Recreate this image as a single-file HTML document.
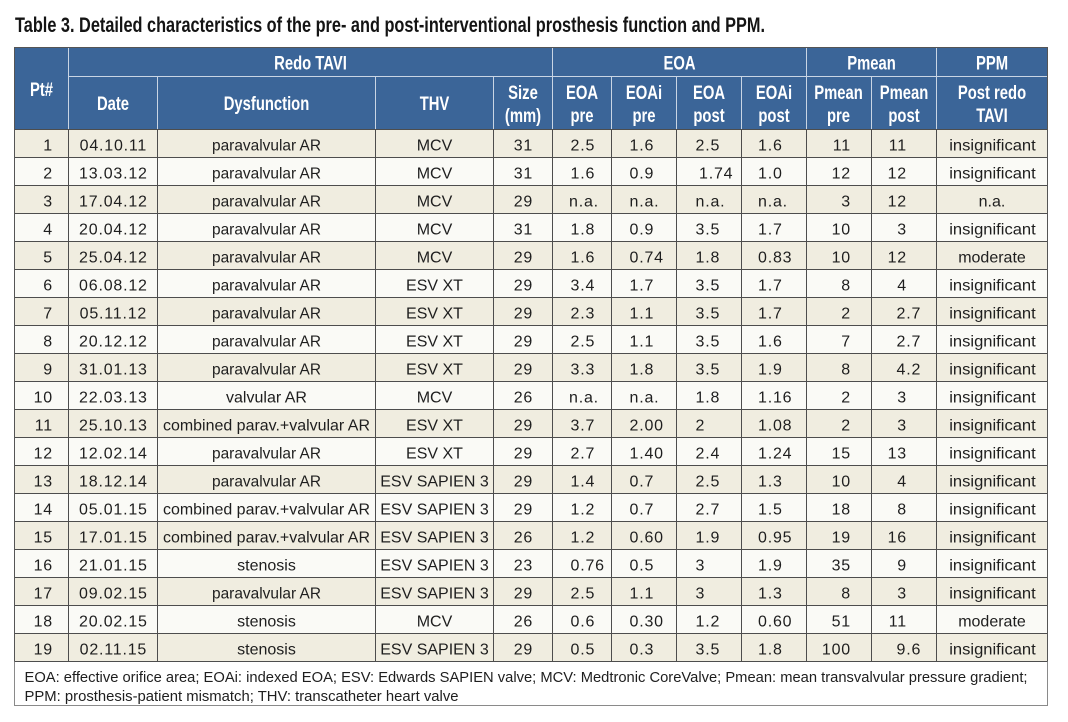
<!DOCTYPE html>
<html>
<head>
<meta charset="utf-8">
<style>
html,body{margin:0;padding:0;background:#fff;}
svg{display:block;}
.t{font-family:"Liberation Sans",Arial,sans-serif;font-size:16px;fill:#1e1e1e;}
.n{letter-spacing:0.8px;}
.h{font-family:"Liberation Sans",Arial,sans-serif;font-weight:bold;font-size:19.5px;fill:#ffffff;}
.f{font-family:"Liberation Sans",Arial,sans-serif;font-size:14.8px;fill:#1e1e1e;}
</style>
</head>
<body>
<svg width="1068" height="722" viewBox="0 0 1068 722" xmlns="http://www.w3.org/2000/svg">
<rect x="0" y="0" width="1068" height="722" fill="#ffffff"/>
<!-- title -->
<text x="15" y="32" font-family="Liberation Sans, Arial, sans-serif" font-weight="bold" font-size="21" fill="#141414" textLength="750" lengthAdjust="spacingAndGlyphs">Table 3. Detailed characteristics of the pre- and post-interventional prosthesis function and PPM.</text>

<!-- header background -->
<rect x="14.5" y="47.5" width="1033" height="82" fill="#3b6598"/>

<!-- body rows -->
<g>
<rect x="14.5" y="129.5" width="1033" height="28" fill="#f0ede0"/>
<rect x="14.5" y="157.5" width="1033" height="28" fill="#fafaf6"/>
<rect x="14.5" y="185.5" width="1033" height="28" fill="#f0ede0"/>
<rect x="14.5" y="213.5" width="1033" height="28" fill="#fafaf6"/>
<rect x="14.5" y="241.5" width="1033" height="28" fill="#f0ede0"/>
<rect x="14.5" y="269.5" width="1033" height="28" fill="#fafaf6"/>
<rect x="14.5" y="297.5" width="1033" height="28" fill="#f0ede0"/>
<rect x="14.5" y="325.5" width="1033" height="28" fill="#fafaf6"/>
<rect x="14.5" y="353.5" width="1033" height="28" fill="#f0ede0"/>
<rect x="14.5" y="381.5" width="1033" height="28" fill="#fafaf6"/>
<rect x="14.5" y="409.5" width="1033" height="28" fill="#f0ede0"/>
<rect x="14.5" y="437.5" width="1033" height="28" fill="#fafaf6"/>
<rect x="14.5" y="465.5" width="1033" height="28" fill="#f0ede0"/>
<rect x="14.5" y="493.5" width="1033" height="28" fill="#fafaf6"/>
<rect x="14.5" y="521.5" width="1033" height="28" fill="#f0ede0"/>
<rect x="14.5" y="549.5" width="1033" height="28" fill="#fafaf6"/>
<rect x="14.5" y="577.5" width="1033" height="28" fill="#f0ede0"/>
<rect x="14.5" y="605.5" width="1033" height="28" fill="#fafaf6"/>
<rect x="14.5" y="633.5" width="1033" height="28" fill="#f0ede0"/>
</g>

<!-- header internal light lines -->
<g stroke="#c9d5e4" stroke-width="1">
<line x1="68.5" y1="47.5" x2="68.5" y2="129.5"/>
<line x1="552.5" y1="47.5" x2="552.5" y2="129.5"/>
<line x1="806.5" y1="47.5" x2="806.5" y2="129.5"/>
<line x1="936.5" y1="47.5" x2="936.5" y2="129.5"/>
<line x1="68.5" y1="76.5" x2="1047.5" y2="76.5"/>
<line x1="157.5" y1="76.5" x2="157.5" y2="129.5"/>
<line x1="375.5" y1="76.5" x2="375.5" y2="129.5"/>
<line x1="493.5" y1="76.5" x2="493.5" y2="129.5"/>
<line x1="611.5" y1="76.5" x2="611.5" y2="129.5"/>
<line x1="676.5" y1="76.5" x2="676.5" y2="129.5"/>
<line x1="741.5" y1="76.5" x2="741.5" y2="129.5"/>
<line x1="871.5" y1="76.5" x2="871.5" y2="129.5"/>
</g>

<!-- body grid lines -->
<g stroke="#4d4d4d" stroke-width="1">
<line x1="68.5" y1="129.5" x2="68.5" y2="661.5"/>
<line x1="157.5" y1="129.5" x2="157.5" y2="661.5"/>
<line x1="375.5" y1="129.5" x2="375.5" y2="661.5"/>
<line x1="493.5" y1="129.5" x2="493.5" y2="661.5"/>
<line x1="552.5" y1="129.5" x2="552.5" y2="661.5"/>
<line x1="611.5" y1="129.5" x2="611.5" y2="661.5"/>
<line x1="676.5" y1="129.5" x2="676.5" y2="661.5"/>
<line x1="741.5" y1="129.5" x2="741.5" y2="661.5"/>
<line x1="806.5" y1="129.5" x2="806.5" y2="661.5"/>
<line x1="871.5" y1="129.5" x2="871.5" y2="661.5"/>
<line x1="936.5" y1="129.5" x2="936.5" y2="661.5"/>
<line x1="14.5" y1="129.5" x2="1047.5" y2="129.5"/>
<line x1="14.5" y1="157.5" x2="1047.5" y2="157.5"/>
<line x1="14.5" y1="185.5" x2="1047.5" y2="185.5"/>
<line x1="14.5" y1="213.5" x2="1047.5" y2="213.5"/>
<line x1="14.5" y1="241.5" x2="1047.5" y2="241.5"/>
<line x1="14.5" y1="269.5" x2="1047.5" y2="269.5"/>
<line x1="14.5" y1="297.5" x2="1047.5" y2="297.5"/>
<line x1="14.5" y1="325.5" x2="1047.5" y2="325.5"/>
<line x1="14.5" y1="353.5" x2="1047.5" y2="353.5"/>
<line x1="14.5" y1="381.5" x2="1047.5" y2="381.5"/>
<line x1="14.5" y1="409.5" x2="1047.5" y2="409.5"/>
<line x1="14.5" y1="437.5" x2="1047.5" y2="437.5"/>
<line x1="14.5" y1="465.5" x2="1047.5" y2="465.5"/>
<line x1="14.5" y1="493.5" x2="1047.5" y2="493.5"/>
<line x1="14.5" y1="521.5" x2="1047.5" y2="521.5"/>
<line x1="14.5" y1="549.5" x2="1047.5" y2="549.5"/>
<line x1="14.5" y1="577.5" x2="1047.5" y2="577.5"/>
<line x1="14.5" y1="605.5" x2="1047.5" y2="605.5"/>
<line x1="14.5" y1="633.5" x2="1047.5" y2="633.5"/>
<line x1="14.5" y1="661.5" x2="1047.5" y2="661.5"/>
</g>
<!-- outer border -->
<rect x="14.5" y="47.5" width="1033" height="614" fill="none" stroke="#555" stroke-width="1"/>
<!-- footer box -->
<rect x="14.5" y="661.5" width="1033" height="44" fill="#fff" stroke="#8a8a8a" stroke-width="1"/>
<line x1="14.5" y1="661.5" x2="1047.5" y2="661.5" stroke="#4d4d4d" stroke-width="1"/>

<!-- header text -->
<g class="h" text-anchor="middle">
<text transform="translate(41.5,96) scale(0.76,1)">Pt#</text>
<text transform="translate(310.5,69.5) scale(0.76,1)">Redo TAVI</text>
<text transform="translate(679.5,69.5) scale(0.76,1)">EOA</text>
<text transform="translate(871.5,69.5) scale(0.76,1)">Pmean</text>
<text transform="translate(992,69.5) scale(0.76,1)">PPM</text>
<text transform="translate(113,110) scale(0.76,1)">Date</text>
<text transform="translate(266.5,110) scale(0.76,1)">Dysfunction</text>
<text transform="translate(434.5,110) scale(0.76,1)">THV</text>
<text transform="translate(523,99) scale(0.76,1)">Size</text>
<text transform="translate(523,122) scale(0.76,1)">(mm)</text>
<text transform="translate(582,99) scale(0.76,1)">EOA</text>
<text transform="translate(582,122) scale(0.76,1)">pre</text>
<text transform="translate(644,99) scale(0.76,1)">EOAi</text>
<text transform="translate(644,122) scale(0.76,1)">pre</text>
<text transform="translate(709,99) scale(0.76,1)">EOA</text>
<text transform="translate(709,122) scale(0.76,1)">post</text>
<text transform="translate(774,99) scale(0.76,1)">EOAi</text>
<text transform="translate(774,122) scale(0.76,1)">post</text>
<text transform="translate(838.5,99) scale(0.76,1)">Pmean</text>
<text transform="translate(838.5,122) scale(0.76,1)">pre</text>
<text transform="translate(904,99) scale(0.76,1)">Pmean</text>
<text transform="translate(904,122) scale(0.76,1)">post</text>
<text transform="translate(992,99) scale(0.76,1)">Post redo</text>
<text transform="translate(992,122) scale(0.76,1)">TAVI</text>
</g>

<!-- Pt# column (right aligned) -->
<g class="t n" text-anchor="end">
<text x="53" y="150.7">1</text>
<text x="53" y="178.7">2</text>
<text x="53" y="206.7">3</text>
<text x="53" y="234.7">4</text>
<text x="53" y="262.7">5</text>
<text x="53" y="290.7">6</text>
<text x="53" y="318.7">7</text>
<text x="53" y="346.7">8</text>
<text x="53" y="374.7">9</text>
<text x="53" y="402.7">10</text>
<text x="53" y="430.7">11</text>
<text x="53" y="458.7">12</text>
<text x="53" y="486.7">13</text>
<text x="53" y="514.7">14</text>
<text x="53" y="542.7">15</text>
<text x="53" y="570.7">16</text>
<text x="53" y="598.7">17</text>
<text x="53" y="626.7">18</text>
<text x="53" y="654.7">19</text>
</g>

<!-- Date column -->
<g class="t n" text-anchor="middle">
<text x="113.4" y="150.7">04.10.11</text>
<text x="113.4" y="178.7">13.03.12</text>
<text x="113.4" y="206.7">17.04.12</text>
<text x="113.4" y="234.7">20.04.12</text>
<text x="113.4" y="262.7">25.04.12</text>
<text x="113.4" y="290.7">06.08.12</text>
<text x="113.4" y="318.7">05.11.12</text>
<text x="113.4" y="346.7">20.12.12</text>
<text x="113.4" y="374.7">31.01.13</text>
<text x="113.4" y="402.7">22.03.13</text>
<text x="113.4" y="430.7">25.10.13</text>
<text x="113.4" y="458.7">12.02.14</text>
<text x="113.4" y="486.7">18.12.14</text>
<text x="113.4" y="514.7">05.01.15</text>
<text x="113.4" y="542.7">17.01.15</text>
<text x="113.4" y="570.7">21.01.15</text>
<text x="113.4" y="598.7">09.02.15</text>
<text x="113.4" y="626.7">20.02.15</text>
<text x="113.4" y="654.7">02.11.15</text>
</g>

<!-- Dysfunction column -->
<g class="t" text-anchor="middle">
<text x="266.5" y="150.7" textLength="109" lengthAdjust="spacingAndGlyphs">paravalvular AR</text>
<text x="266.5" y="178.7" textLength="109" lengthAdjust="spacingAndGlyphs">paravalvular AR</text>
<text x="266.5" y="206.7" textLength="109" lengthAdjust="spacingAndGlyphs">paravalvular AR</text>
<text x="266.5" y="234.7" textLength="109" lengthAdjust="spacingAndGlyphs">paravalvular AR</text>
<text x="266.5" y="262.7" textLength="109" lengthAdjust="spacingAndGlyphs">paravalvular AR</text>
<text x="266.5" y="290.7" textLength="109" lengthAdjust="spacingAndGlyphs">paravalvular AR</text>
<text x="266.5" y="318.7" textLength="109" lengthAdjust="spacingAndGlyphs">paravalvular AR</text>
<text x="266.5" y="346.7" textLength="109" lengthAdjust="spacingAndGlyphs">paravalvular AR</text>
<text x="266.5" y="374.7" textLength="109" lengthAdjust="spacingAndGlyphs">paravalvular AR</text>
<text x="266.5" y="402.7">valvular AR</text>
<text x="266.5" y="430.7" textLength="207" lengthAdjust="spacingAndGlyphs">combined parav.+valvular AR</text>
<text x="266.5" y="458.7" textLength="109" lengthAdjust="spacingAndGlyphs">paravalvular AR</text>
<text x="266.5" y="486.7" textLength="109" lengthAdjust="spacingAndGlyphs">paravalvular AR</text>
<text x="266.5" y="514.7" textLength="207" lengthAdjust="spacingAndGlyphs">combined parav.+valvular AR</text>
<text x="266.5" y="542.7" textLength="207" lengthAdjust="spacingAndGlyphs">combined parav.+valvular AR</text>
<text x="266.5" y="570.7">stenosis</text>
<text x="266.5" y="598.7" textLength="109" lengthAdjust="spacingAndGlyphs">paravalvular AR</text>
<text x="266.5" y="626.7">stenosis</text>
<text x="266.5" y="654.7">stenosis</text>
</g>

<!-- THV column -->
<g class="t" text-anchor="middle">
<text x="434.5" y="150.7">MCV</text>
<text x="434.5" y="178.7">MCV</text>
<text x="434.5" y="206.7">MCV</text>
<text x="434.5" y="234.7">MCV</text>
<text x="434.5" y="262.7">MCV</text>
<text x="434.5" y="290.7">ESV XT</text>
<text x="434.5" y="318.7">ESV XT</text>
<text x="434.5" y="346.7">ESV XT</text>
<text x="434.5" y="374.7">ESV XT</text>
<text x="434.5" y="402.7">MCV</text>
<text x="434.5" y="430.7">ESV XT</text>
<text x="434.5" y="458.7">ESV XT</text>
<text x="434.5" y="486.7">ESV SAPIEN 3</text>
<text x="434.5" y="514.7">ESV SAPIEN 3</text>
<text x="434.5" y="542.7">ESV SAPIEN 3</text>
<text x="434.5" y="570.7">ESV SAPIEN 3</text>
<text x="434.5" y="598.7">ESV SAPIEN 3</text>
<text x="434.5" y="626.7">MCV</text>
<text x="434.5" y="654.7">ESV SAPIEN 3</text>
</g>

<!-- Size column -->
<g class="t n" text-anchor="middle">
<text x="523.4" y="150.7">31</text>
<text x="523.4" y="178.7">31</text>
<text x="523.4" y="206.7">29</text>
<text x="523.4" y="234.7">31</text>
<text x="523.4" y="262.7">29</text>
<text x="523.4" y="290.7">29</text>
<text x="523.4" y="318.7">29</text>
<text x="523.4" y="346.7">29</text>
<text x="523.4" y="374.7">29</text>
<text x="523.4" y="402.7">26</text>
<text x="523.4" y="430.7">29</text>
<text x="523.4" y="458.7">29</text>
<text x="523.4" y="486.7">29</text>
<text x="523.4" y="514.7">29</text>
<text x="523.4" y="542.7">26</text>
<text x="523.4" y="570.7">23</text>
<text x="523.4" y="598.7">29</text>
<text x="523.4" y="626.7">26</text>
<text x="523.4" y="654.7">29</text>
</g>

<!-- EOA pre -->
<g class="t n" text-anchor="start">
<text x="570.5" y="150.7">2.5</text>
<text x="570.5" y="178.7">1.6</text>
<text x="569" y="206.7">n.a.</text>
<text x="570.5" y="234.7">1.8</text>
<text x="570.5" y="262.7">1.6</text>
<text x="570.5" y="290.7">3.4</text>
<text x="570.5" y="318.7">2.3</text>
<text x="570.5" y="346.7">2.5</text>
<text x="570.5" y="374.7">3.3</text>
<text x="569" y="402.7">n.a.</text>
<text x="570.5" y="430.7">3.7</text>
<text x="570.5" y="458.7">2.7</text>
<text x="570.5" y="486.7">1.4</text>
<text x="570.5" y="514.7">1.2</text>
<text x="570.5" y="542.7">1.2</text>
<text x="570.5" y="570.7">0.76</text>
<text x="570.5" y="598.7">2.5</text>
<text x="570.5" y="626.7">0.6</text>
<text x="570.5" y="654.7">0.5</text>
</g>

<!-- EOAi pre -->
<g class="t n" text-anchor="start">
<text x="629.5" y="150.7">1.6</text>
<text x="629.5" y="178.7">0.9</text>
<text x="629.5" y="206.7">n.a.</text>
<text x="629.5" y="234.7">0.9</text>
<text x="629.5" y="262.7">0.74</text>
<text x="629.5" y="290.7">1.7</text>
<text x="629.5" y="318.7">1.1</text>
<text x="629.5" y="346.7">1.1</text>
<text x="629.5" y="374.7">1.8</text>
<text x="629.5" y="402.7">n.a.</text>
<text x="629.5" y="430.7">2.00</text>
<text x="629.5" y="458.7">1.40</text>
<text x="629.5" y="486.7">0.7</text>
<text x="629.5" y="514.7">0.7</text>
<text x="629.5" y="542.7">0.60</text>
<text x="629.5" y="570.7">0.5</text>
<text x="629.5" y="598.7">1.1</text>
<text x="629.5" y="626.7">0.30</text>
<text x="629.5" y="654.7">0.3</text>
</g>

<!-- EOA post -->
<g class="t n" text-anchor="start">
<text x="695.5" y="150.7">2.5</text>
<text x="699" y="178.7">1.74</text>
<text x="695.5" y="206.7">n.a.</text>
<text x="695.5" y="234.7">3.5</text>
<text x="695.5" y="262.7">1.8</text>
<text x="695.5" y="290.7">3.5</text>
<text x="695.5" y="318.7">3.5</text>
<text x="695.5" y="346.7">3.5</text>
<text x="695.5" y="374.7">3.5</text>
<text x="695.5" y="402.7">1.8</text>
<text x="695.5" y="430.7">2</text>
<text x="695.5" y="458.7">2.4</text>
<text x="695.5" y="486.7">2.5</text>
<text x="695.5" y="514.7">2.7</text>
<text x="695.5" y="542.7">1.9</text>
<text x="695.5" y="570.7">3</text>
<text x="695.5" y="598.7">3</text>
<text x="695.5" y="626.7">1.2</text>
<text x="695.5" y="654.7">3.5</text>
</g>

<!-- EOAi post -->
<g class="t n" text-anchor="start">
<text x="758" y="150.7">1.6</text>
<text x="758" y="178.7">1.0</text>
<text x="758" y="206.7">n.a.</text>
<text x="758" y="234.7">1.7</text>
<text x="758" y="262.7">0.83</text>
<text x="758" y="290.7">1.7</text>
<text x="758" y="318.7">1.7</text>
<text x="758" y="346.7">1.6</text>
<text x="758" y="374.7">1.9</text>
<text x="758" y="402.7">1.16</text>
<text x="758" y="430.7">1.08</text>
<text x="758" y="458.7">1.24</text>
<text x="758" y="486.7">1.3</text>
<text x="758" y="514.7">1.5</text>
<text x="758" y="542.7">0.95</text>
<text x="758" y="570.7">1.9</text>
<text x="758" y="598.7">1.3</text>
<text x="758" y="626.7">0.60</text>
<text x="758" y="654.7">1.8</text>
</g>

<!-- Pmean pre (right aligned) -->
<g class="t n" text-anchor="end">
<text x="851" y="150.7">11</text>
<text x="851" y="178.7">12</text>
<text x="851" y="206.7">3</text>
<text x="851" y="234.7">10</text>
<text x="851" y="262.7">10</text>
<text x="851" y="290.7">8</text>
<text x="851" y="318.7">2</text>
<text x="851" y="346.7">7</text>
<text x="851" y="374.7">8</text>
<text x="851" y="402.7">2</text>
<text x="851" y="430.7">2</text>
<text x="851" y="458.7">15</text>
<text x="851" y="486.7">10</text>
<text x="851" y="514.7">18</text>
<text x="851" y="542.7">19</text>
<text x="851" y="570.7">35</text>
<text x="851" y="598.7">8</text>
<text x="851" y="626.7">51</text>
<text x="851" y="654.7">100</text>
</g>

<!-- Pmean post (decimal aligned) -->
<g class="t n">
<text x="907" y="150.7" text-anchor="end">11</text>
<text x="907" y="178.7" text-anchor="end">12</text>
<text x="907" y="206.7" text-anchor="end">12</text>
<text x="907" y="234.7" text-anchor="end">3</text>
<text x="907" y="262.7" text-anchor="end">12</text>
<text x="907" y="290.7" text-anchor="end">4</text>
<text x="896.5" y="318.7" text-anchor="start">2.7</text>
<text x="896.5" y="346.7" text-anchor="start">2.7</text>
<text x="896.5" y="374.7" text-anchor="start">4.2</text>
<text x="907" y="402.7" text-anchor="end">3</text>
<text x="907" y="430.7" text-anchor="end">3</text>
<text x="907" y="458.7" text-anchor="end">13</text>
<text x="907" y="486.7" text-anchor="end">4</text>
<text x="907" y="514.7" text-anchor="end">8</text>
<text x="907" y="542.7" text-anchor="end">16</text>
<text x="907" y="570.7" text-anchor="end">9</text>
<text x="907" y="598.7" text-anchor="end">3</text>
<text x="907" y="626.7" text-anchor="end">11</text>
<text x="896.5" y="654.7" text-anchor="start">9.6</text>
</g>

<!-- PPM column -->
<g class="t" text-anchor="middle">
<text x="992.5" y="150.7" textLength="86.5" lengthAdjust="spacingAndGlyphs">insignificant</text>
<text x="992.5" y="178.7" textLength="86.5" lengthAdjust="spacingAndGlyphs">insignificant</text>
<text x="992" y="206.7">n.a.</text>
<text x="992.5" y="234.7" textLength="86.5" lengthAdjust="spacingAndGlyphs">insignificant</text>
<text x="992" y="262.7">moderate</text>
<text x="992.5" y="290.7" textLength="86.5" lengthAdjust="spacingAndGlyphs">insignificant</text>
<text x="992.5" y="318.7" textLength="86.5" lengthAdjust="spacingAndGlyphs">insignificant</text>
<text x="992.5" y="346.7" textLength="86.5" lengthAdjust="spacingAndGlyphs">insignificant</text>
<text x="992.5" y="374.7" textLength="86.5" lengthAdjust="spacingAndGlyphs">insignificant</text>
<text x="992.5" y="402.7" textLength="86.5" lengthAdjust="spacingAndGlyphs">insignificant</text>
<text x="992.5" y="430.7" textLength="86.5" lengthAdjust="spacingAndGlyphs">insignificant</text>
<text x="992.5" y="458.7" textLength="86.5" lengthAdjust="spacingAndGlyphs">insignificant</text>
<text x="992.5" y="486.7" textLength="86.5" lengthAdjust="spacingAndGlyphs">insignificant</text>
<text x="992.5" y="514.7" textLength="86.5" lengthAdjust="spacingAndGlyphs">insignificant</text>
<text x="992.5" y="542.7" textLength="86.5" lengthAdjust="spacingAndGlyphs">insignificant</text>
<text x="992.5" y="570.7" textLength="86.5" lengthAdjust="spacingAndGlyphs">insignificant</text>
<text x="992.5" y="598.7" textLength="86.5" lengthAdjust="spacingAndGlyphs">insignificant</text>
<text x="992" y="626.7">moderate</text>
<text x="992.5" y="654.7" textLength="86.5" lengthAdjust="spacingAndGlyphs">insignificant</text>
</g>

<!-- footer -->
<text class="f" x="24.5" y="682" textLength="1003" lengthAdjust="spacingAndGlyphs">EOA: effective orifice area; EOAi: indexed EOA; ESV: Edwards SAPIEN valve; MCV: Medtronic CoreValve; Pmean: mean transvalvular pressure gradient;</text>
<text class="f" x="24.5" y="701" textLength="434" lengthAdjust="spacingAndGlyphs">PPM: prosthesis-patient mismatch; THV: transcatheter heart valve</text>
</svg>
</body>
</html>
